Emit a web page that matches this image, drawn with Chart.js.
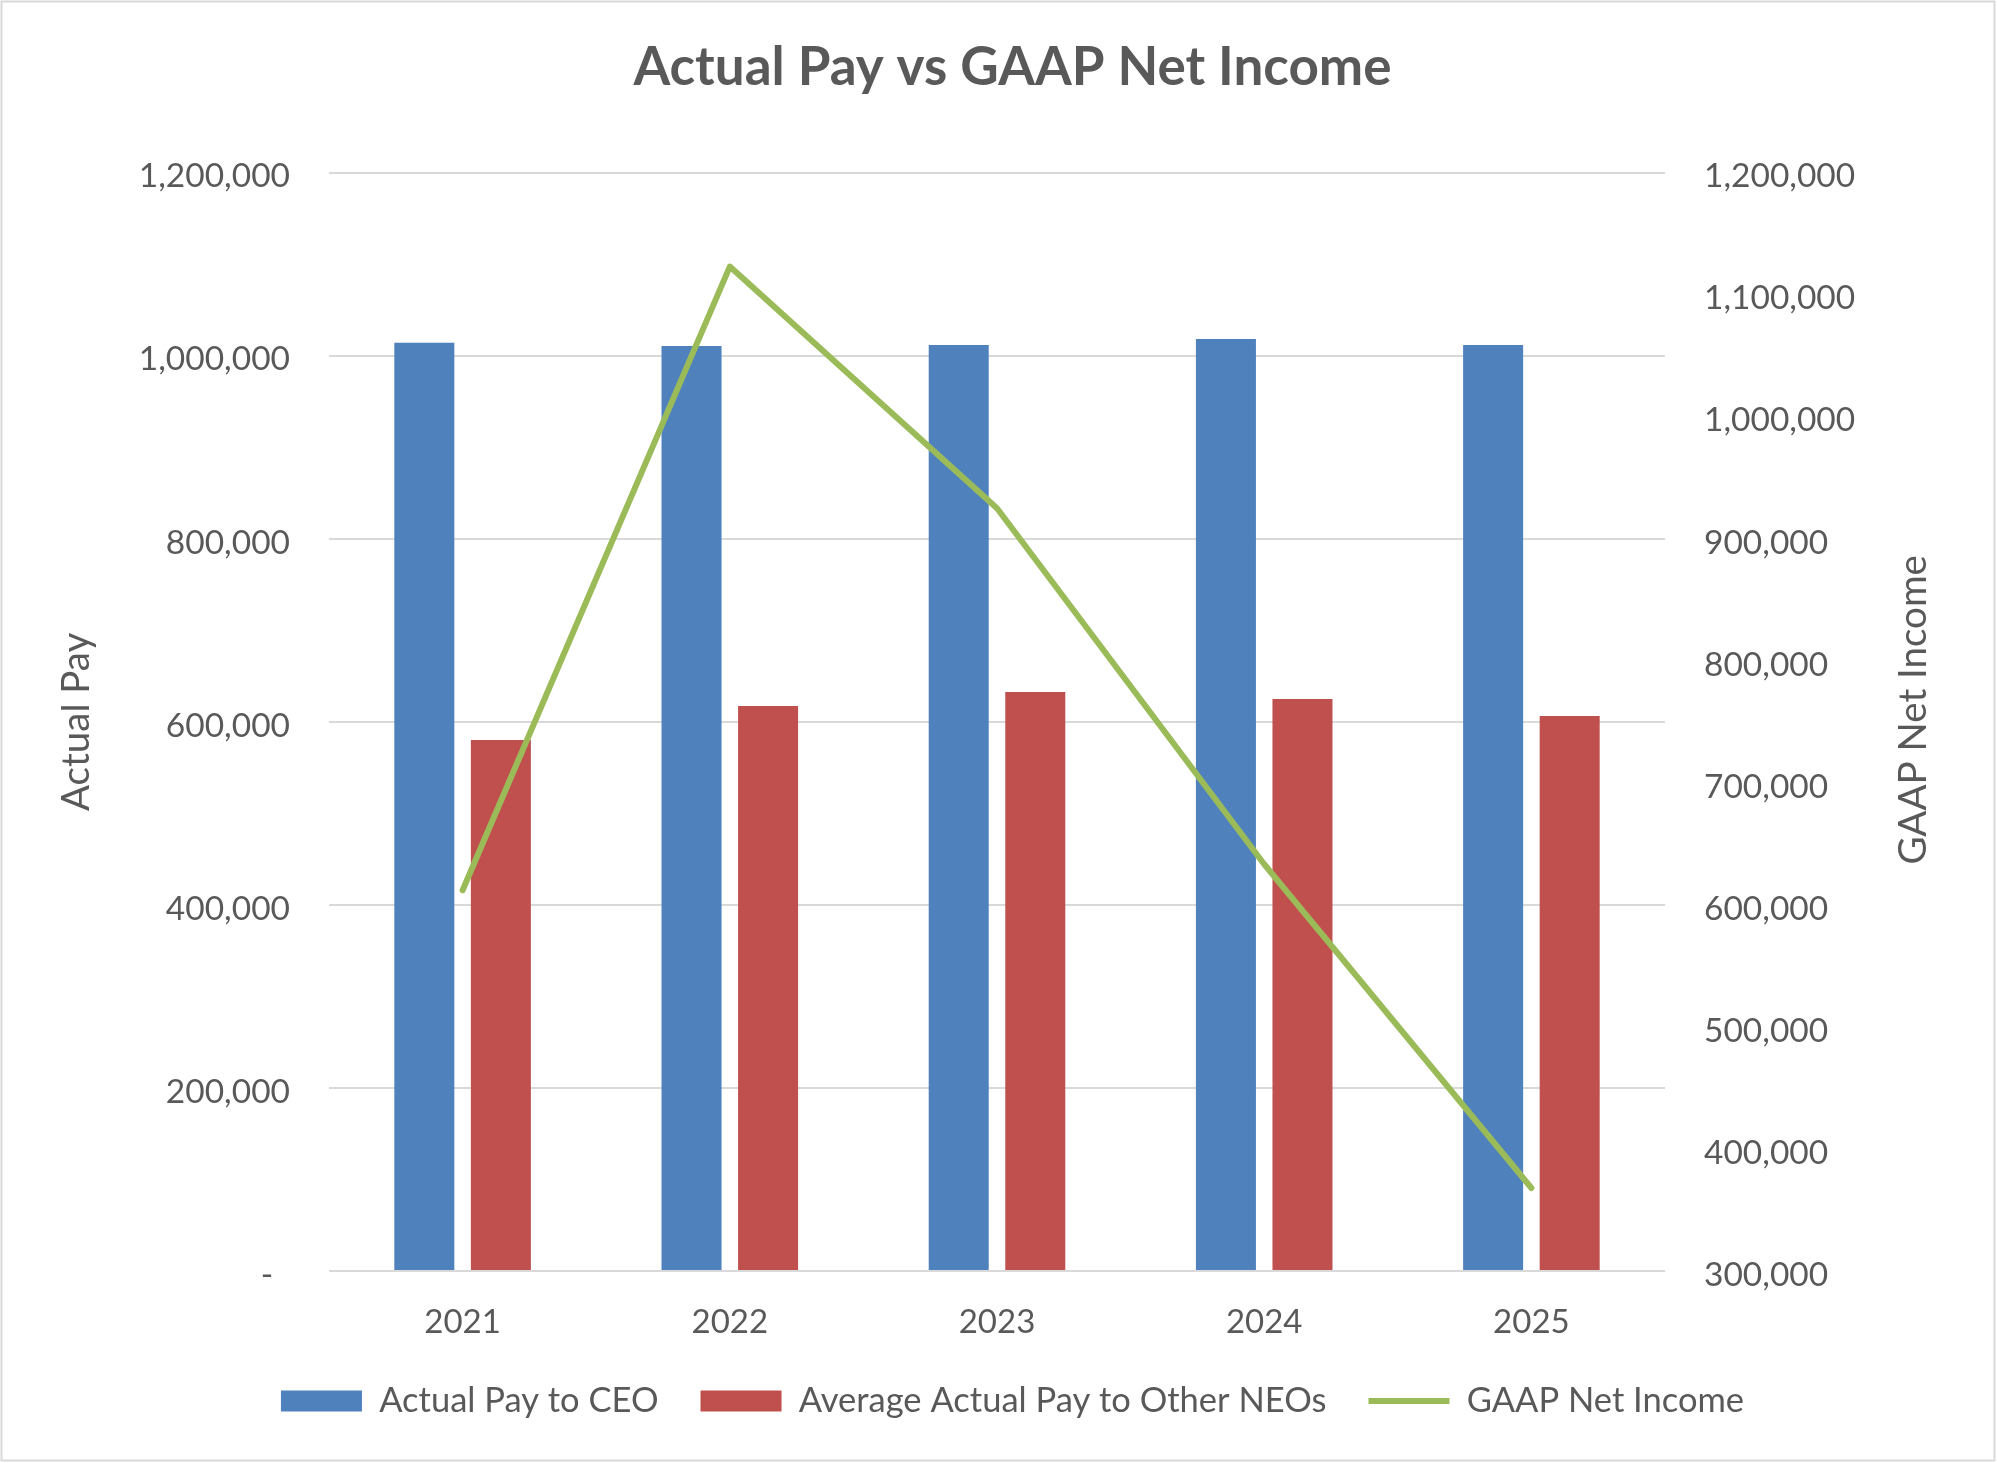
<!DOCTYPE html>
<html>
<head>
<meta charset="utf-8">
<title>Actual Pay vs GAAP Net Income</title>
<script src="https://cdn.jsdelivr.net/npm/chart.js@4.4.1/dist/chart.umd.min.js"></script>
<style>
  html, body { margin: 0; padding: 0; background: #fff; }
  canvas { display: block; }
</style>
</head>
<body>
<canvas id="payChart" width="1997" height="1463"></canvas>
<script>
const years = ['2021', '2022', '2023', '2024', '2025'];
const ceoPay = [1014000, 1010600, 1011700, 1018300, 1011700];
const otherNeoPay = [580000, 617200, 632500, 624900, 606200];
const netIncome = [612000, 1123000, 925000, 633300, 368000];

const seriesLabels = ['Actual Pay to CEO', 'Average Actual Pay to Other NEOs', 'GAAP Net Income'];
const chartTitle = 'Actual Pay vs GAAP Net Income';
const leftAxisTitle = 'Actual Pay';
const rightAxisTitle = 'GAAP Net Income';

const fontFamily = 'Lato, "Open Sans", sans-serif';
const textColor = '#595959';
const gridColor = '#d9d9d9';
const axisTitleSize = 38.5;

// white page with the thin grey frame round it
const framePlugin = {
  id: 'frame',
  beforeDraw(chart) {
    const { ctx, width, height } = chart;
    ctx.save();
    ctx.fillStyle = '#ffffff';
    ctx.fillRect(0, 0, width, height);
    ctx.strokeStyle = gridColor;
    ctx.lineWidth = 2;
    ctx.strokeRect(1.5, 1.5, width - 4, height - 4);
    ctx.restore();
  },
};

// Chart.js turns a right-hand title the other way, so draw it here
const rightTitlePlugin = {
  id: 'rightTitle',
  afterDraw(chart) {
    const { ctx, chartArea } = chart;
    const scale = chart.scales.y1;
    ctx.save();
    ctx.translate(scale.right - 77, (chartArea.top + chartArea.bottom) / 2 - 12);
    ctx.rotate(-Math.PI / 2);
    ctx.font = `${axisTitleSize}px ${fontFamily}`;
    ctx.fillStyle = textColor;
    ctx.textAlign = 'center';
    ctx.textBaseline = 'middle';
    ctx.fillText(rightAxisTitle, 0, 0);
    ctx.restore();
  },
};

function formatThousands(value) {
  return Number(value).toLocaleString('en-US');
}

function createPayChart(context) {
  return new Chart(context, {
    type: 'bar',
    data: {
      labels: years,
      datasets: [
        {
          label: seriesLabels[0],
          data: ceoPay,
          backgroundColor: '#4f81bd',
          yAxisID: 'y',
          order: 1,
          pointStyle: 'rect',
          categoryPercentage: 0.573,
          barPercentage: 0.784,
        },
        {
          label: seriesLabels[1],
          data: otherNeoPay,
          backgroundColor: '#c0504d',
          yAxisID: 'y',
          order: 1,
          pointStyle: 'rect',
          categoryPercentage: 0.573,
          barPercentage: 0.784,
        },
        {
          type: 'line',
          label: seriesLabels[2],
          data: netIncome,
          borderColor: '#9bbb59',
          backgroundColor: '#9bbb59',
          borderWidth: 6,
          borderCapStyle: 'round',
          borderJoinStyle: 'round',
          pointRadius: 0,
          pointStyle: 'line',
          yAxisID: 'y1',
          order: 0,
        },
      ],
    },
    options: {
      responsive: false,
      devicePixelRatio: 1,
      animation: false,
      layout: { padding: { top: 0, left: 34, right: 6, bottom: 34.75 } },
      plugins: {
        tooltip: { enabled: false },
        title: {
          display: true,
          text: chartTitle,
          color: textColor,
          font: { family: fontFamily, size: 53, weight: 'bold' },
          padding: { top: 36, bottom: 73 },
        },
        legend: {
          position: 'bottom',
          labels: {
            usePointStyle: true,
            pointStyleWidth: 81,
            boxHeight: 21,
            padding: 42,
            color: textColor,
            font: { family: fontFamily, size: 34.5 },
            sort: (a, b) => a.datasetIndex - b.datasetIndex,
          },
        },
      },
      scales: {
        x: {
          grid: { display: false },
          border: { display: false },
          ticks: { color: textColor, padding: 24, font: { family: fontFamily, size: 33 } },
          afterFit: scale => { scale.height = 70.75; },
        },
        y: {
          position: 'left',
          min: 0,
          max: 1200000,
          grid: { color: gridColor, lineWidth: 2, drawTicks: false },
          border: { display: false },
          ticks: {
            stepSize: 200000,
            color: textColor,
            padding: 39,
            labelOffset: 4,
            font: { family: fontFamily, size: 33.5 },
            callback: value => (value === 0 ? '-\u2002' : formatThousands(value)),
          },
          title: {
            display: true,
            text: leftAxisTitle,
            color: textColor,
            font: { family: fontFamily, size: axisTitleSize },
            padding: { top: 19, bottom: 0 },
          },
          afterFit: scale => { scale.width = 295; },
        },
        y1: {
          position: 'right',
          min: 300000,
          max: 1200000,
          grid: { display: false, drawTicks: false },
          border: { display: false },
          ticks: {
            stepSize: 100000,
            color: textColor,
            padding: 39,
            labelOffset: 4,
            font: { family: fontFamily, size: 33.5 },
            callback: value => formatThousands(value),
          },
          afterFit: scale => { scale.width = 326; },
        },
      },
    },
    plugins: [framePlugin, rightTitlePlugin],
  });
}

const payChart = createPayChart(document.getElementById('payChart').getContext('2d'));
</script>
</body>
</html>
